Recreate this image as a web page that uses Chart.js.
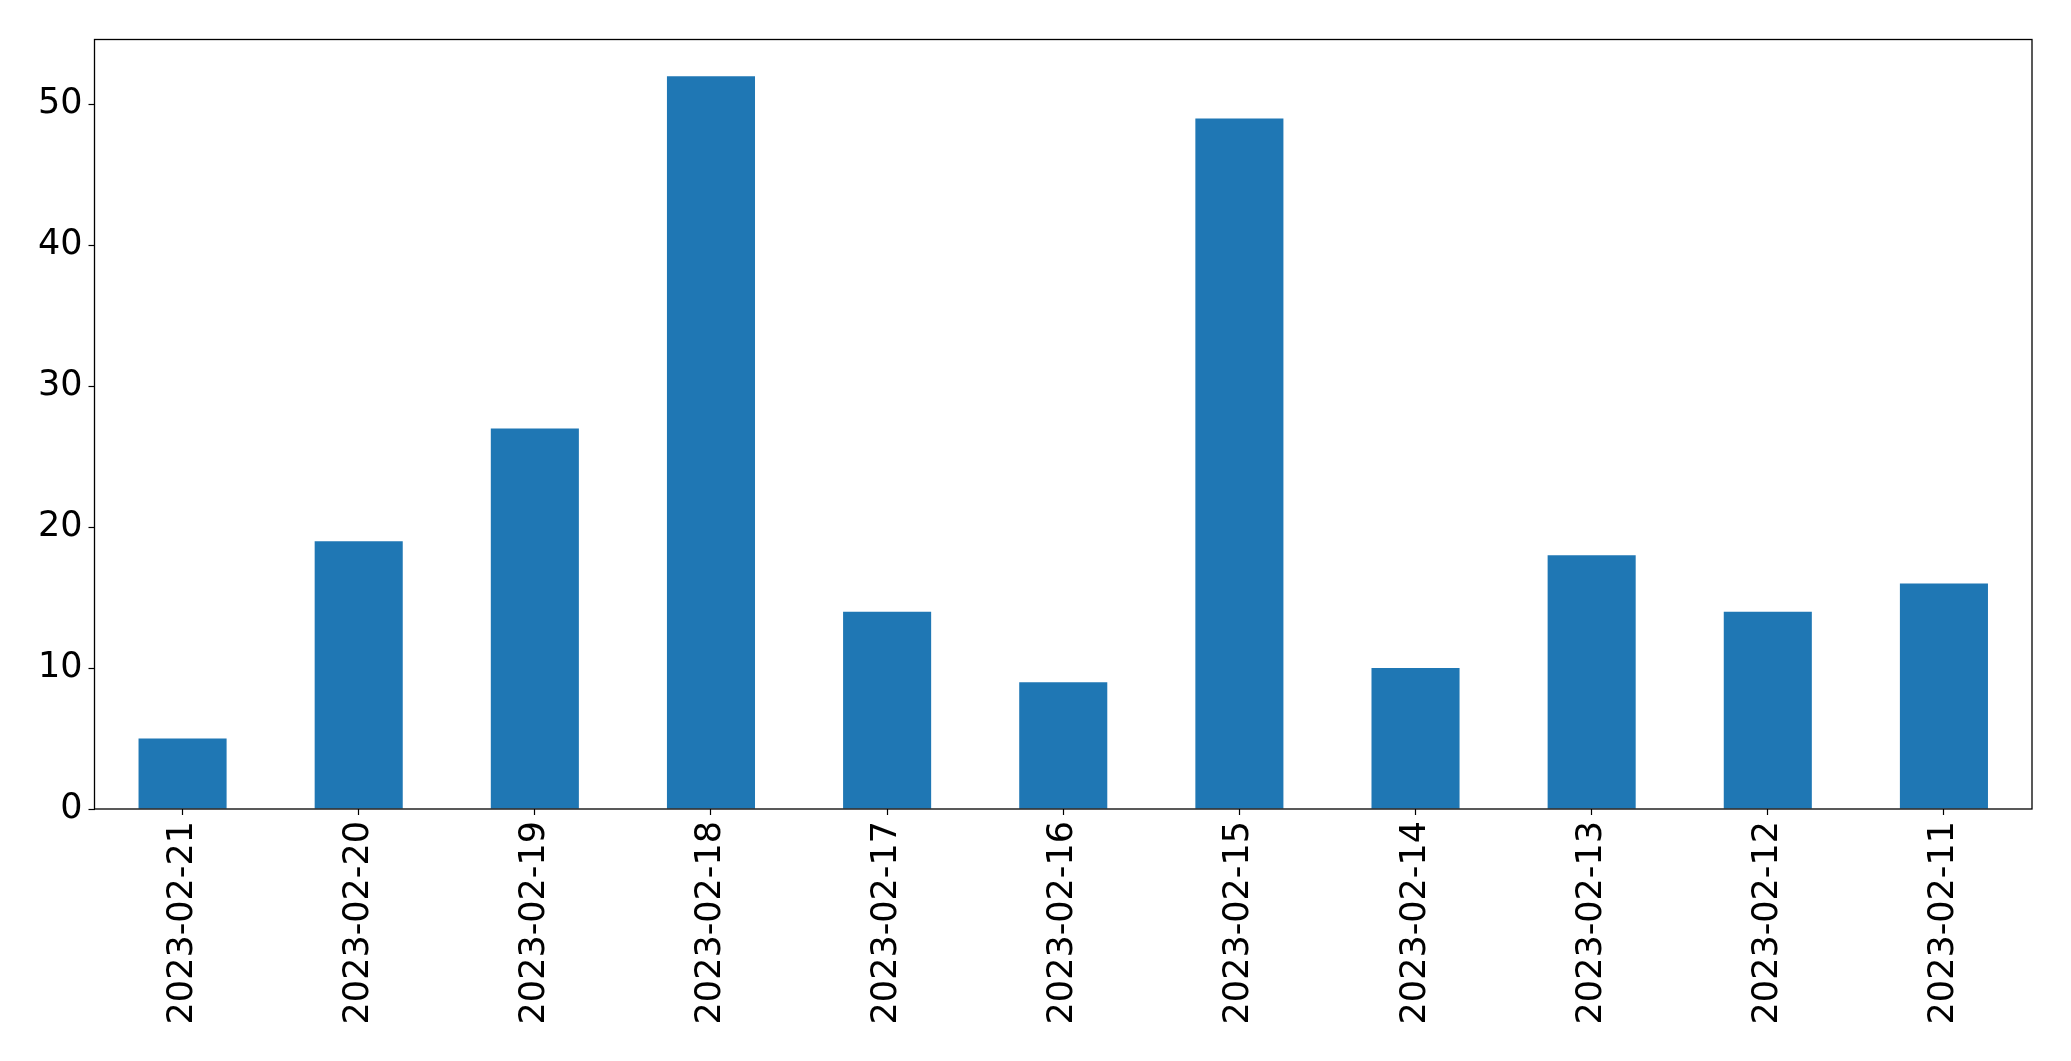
<!DOCTYPE html>
<html>
<head>
<meta charset="utf-8">
<script src="https://cdn.jsdelivr.net/npm/chart.js@4"></script>
<style>
  html, body { margin: 0; padding: 0; background: #fff; }
  #wrap { width: 2071px; height: 1061px; }
</style>
</head>
<body>
<div id="wrap"><canvas id="barChart" width="2071" height="1061"></canvas></div>
<script>
const dates = ['2023-02-21', '2023-02-20', '2023-02-19', '2023-02-18', '2023-02-17', '2023-02-16',
               '2023-02-15', '2023-02-14', '2023-02-13', '2023-02-12', '2023-02-11'];
const counts = [5, 19, 27, 52, 14, 9, 49, 10, 18, 14, 16];
const yTicks = [0, 10, 20, 30, 40, 50];

// box around the plot area, like the matplotlib frame
const frame = {
    id: 'frame',
    afterDraw(chart) {
        const { ctx, chartArea: a } = chart;
        ctx.save();
        ctx.strokeStyle = '#000';
        ctx.lineWidth = 1.3;
        ctx.strokeRect(a.left, a.top, a.right - a.left, a.bottom - a.top);
        ctx.restore();
    }
};

const tickFont = { family: 'DejaVu Sans', size: 35 };

new Chart(document.getElementById('barChart').getContext('2d'), {
    type: 'bar',
    data: {
        labels: dates,
        datasets: [{
            data: counts,
            backgroundColor: '#1f77b4',
            borderWidth: 0,
            barPercentage: 0.5,
            categoryPercentage: 1.0
        }]
    },
    options: {
        responsive: false,
        animation: false,
        layout: { padding: { top: 39.5, right: 39, left: 0, bottom: 0 } },
        plugins: {
            legend: { display: false },
            tooltip: { enabled: false }
        },
        scales: {
            x: {
                offset: true,
                grid: {
                    offset: false,
                    drawOnChartArea: false,
                    color: '#000',
                    tickLength: 6,
                    tickWidth: 1.2
                },
                border: { display: false },
                ticks: {
                    color: '#000',
                    font: tickFont,
                    minRotation: 90,
                    maxRotation: 90,
                    autoSkip: false,
                    padding: 6
                },
                afterFit(scale) { scale.height = 252; }
            },
            y: {
                min: 0,
                max: 54.6,
                grid: {
                    drawOnChartArea: false,
                    color: '#000',
                    tickLength: 6,
                    tickWidth: 1.2
                },
                border: { display: false },
                afterBuildTicks(scale) {
                    scale.ticks = yTicks.map(v => ({ value: v }));
                },
                ticks: {
                    color: '#000',
                    font: tickFont,
                    padding: 6
                },
                afterFit(scale) { scale.width = 94.5; }
            }
        }
    },
    plugins: [frame]
});
</script>
</body>
</html>
